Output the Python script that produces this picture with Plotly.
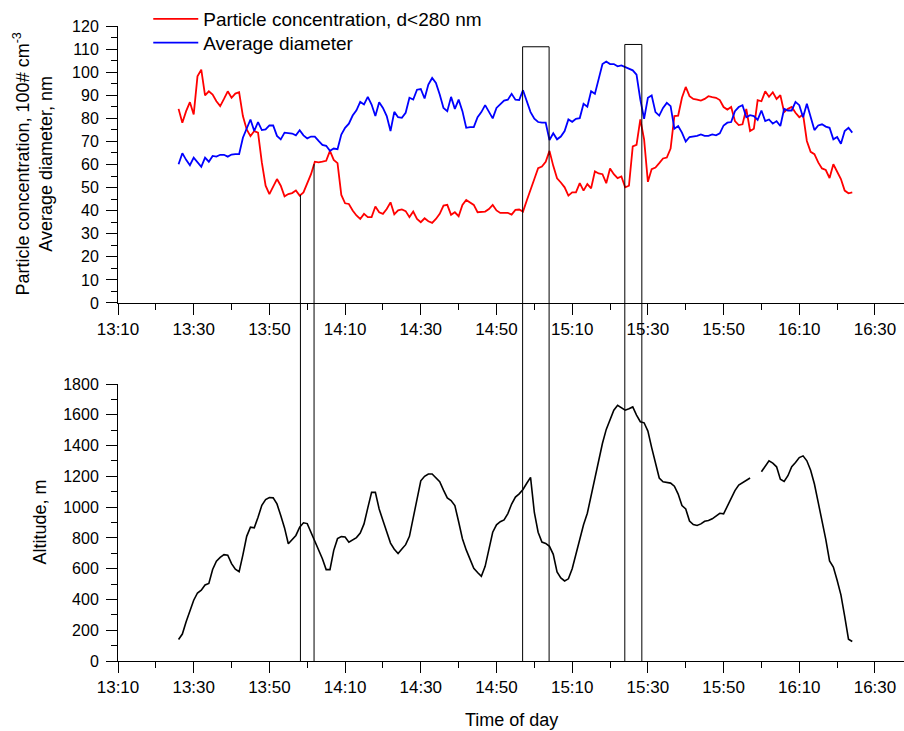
import numpy as np
import pandas as pd
import plotly.graph_objects as go

# ---------------- data ----------------
BASE = "2000-01-01 13:10:00"
# minutes after 13:10 (13:26 ... 16:24), 1-minute samples
minutes = list(range(16, 195))

# Particle concentration, d<280 nm (100# cm-3)
conc = [
    84.1, 78.1, 83.1, 87.0, 81.7, 98.2, 101.1, 89.9, 91.7, 90.3,
    87.4, 85.3, 88.4, 91.7, 88.9, 90.7, 91.3, 81.0, 75.2, 72.3,
    74.5, 73.8, 60.9, 50.8, 47.2, 50.8, 53.7, 50.8, 46.2, 47.2,
    47.6, 48.7, 46.5, 47.9, 52.2, 55.8, 61.2, 60.9, 61.2, 61.6,
    65.9, 62.0, 60.6, 46.8, 43.2, 42.9, 40.1, 37.9, 36.4, 38.6,
    37.2, 37.2, 41.8, 39.3, 38.6, 40.7, 43.6, 38.4, 40.1, 40.5,
    39.8, 37.2, 39.6, 36.4, 35.0, 36.7, 35.4, 34.7, 36.4, 38.6,
    42.2, 42.5, 38.2, 39.3, 37.6, 42.5, 44.6, 43.6, 42.5, 39.3,
    39.3, 39.6, 40.7, 42.5, 40.1, 39.0, 39.0, 39.0, 38.3, 40.3,
    40.5, 39.6, 44.4, 48.7, 53.7, 58.4, 59.1, 61.2, 65.9, 59.4,
    54.0, 52.2, 50.1, 46.5, 47.9, 47.9, 51.9, 48.7, 51.5, 49.7,
    57.0, 56.1, 55.8, 51.9, 58.3, 55.8, 54.1, 54.8, 50.1, 50.8,
    67.8, 68.5, 79.5, 70.9, 52.5, 58.0, 58.7, 60.6, 62.6, 63.0,
    66.9, 81.0, 81.2, 88.9, 93.6, 89.6, 88.4, 88.1, 87.7, 88.4,
    89.6, 89.2, 88.9, 87.9, 84.9, 83.8, 84.9, 78.8, 77.1, 77.4,
    84.1, 74.5, 75.5, 87.9, 87.4, 91.7, 89.3, 91.3, 88.4, 90.0,
    82.7, 84.1, 84.9, 82.4, 80.5, 81.7, 70.2, 65.5, 64.5, 60.9,
    58.3, 57.6, 54.1, 60.1, 57.0, 53.7, 48.7, 47.5, 47.9,
]

# Average diameter (nm)
diam = [
    60.1, 64.9, 62.0, 59.7, 63.0, 60.9, 59.0, 63.0, 61.2, 63.7,
    63.4, 64.2, 64.2, 63.4, 64.3, 64.5, 64.5, 71.6, 75.9, 79.5,
    74.5, 78.4, 74.9, 75.2, 76.9, 76.9, 72.4, 70.9, 73.8, 73.5,
    73.4, 72.6, 74.8, 72.6, 71.3, 72.1, 72.1, 70.2, 68.5, 68.1,
    65.9, 66.9, 66.6, 73.0, 75.9, 77.7, 81.2, 83.5, 87.1, 86.0,
    89.3, 86.0, 81.0, 87.0, 84.5, 81.0, 74.5, 82.8, 80.5, 80.2,
    82.4, 88.9, 88.1, 92.4, 92.7, 88.6, 94.6, 97.5, 95.3, 90.3,
    84.5, 83.1, 89.3, 84.1, 88.1, 83.1, 75.9, 76.2, 76.2, 80.5,
    82.7, 85.7, 82.7, 80.0, 84.5, 86.3, 87.7, 88.1, 90.6, 88.1,
    87.9, 92.2, 87.0, 82.7, 79.8, 78.4, 78.1, 78.1, 70.6, 73.5,
    70.9, 72.1, 74.5, 79.5, 78.5, 79.8, 80.1, 86.3, 85.0, 91.7,
    90.6, 97.5, 103.5, 104.6, 103.5, 103.5, 102.5, 102.9, 102.2, 101.8,
    100.8, 98.9, 88.1, 79.8, 88.9, 89.9, 82.7, 81.2, 84.5, 86.7,
    85.3, 75.5, 76.7, 73.8, 69.9, 71.9, 72.1, 72.4, 73.0, 72.4,
    72.4, 73.0, 72.6, 73.5, 76.9, 78.1, 78.4, 83.1, 84.9, 85.7,
    80.5, 81.4, 81.0, 79.3, 83.4, 78.8, 79.5, 77.7, 78.8, 76.7,
    84.1, 83.4, 83.4, 87.1, 85.7, 80.5, 86.3, 81.0, 74.9, 76.9,
    77.4, 76.4, 75.9, 70.9, 71.9, 69.0, 74.5, 75.9, 73.8,
]

# Altitude (m)
alt = [
    140, 175, 255, 320, 395, 442, 460, 494, 504, 595,
    648, 673, 691, 688, 633, 596, 580, 690, 810, 870,
    866, 934, 1012, 1049, 1062, 1060, 1021, 945, 865, 762,
    788, 816, 870, 898, 893, 835, 777, 712, 665, 594,
    594, 719, 795, 808, 806, 772, 786, 802, 832, 891,
    995, 1096, 1096, 988, 913, 833, 766, 726, 698, 728,
    756, 810, 930, 1070, 1171, 1200, 1215, 1215, 1189, 1165,
    1110, 1060, 1043, 1010, 905, 795, 722, 660, 603, 575,
    550, 615, 719, 837, 885, 905, 917, 958, 1020, 1065,
    1086, 1115, 1155, 1193, 965, 837, 773, 764, 745, 693,
    579, 540, 520, 534, 600, 695, 805, 885, 960, 1074,
    1204, 1320, 1415, 1505, 1570, 1630, 1662, 1645, 1630, 1639,
    1651, 1598, 1555, 1548, 1494, 1387, 1285, 1189, 1165, 1160,
    1156, 1136, 1085, 1010, 988, 910, 887, 881, 891, 908,
    913, 924, 943, 960, 956, 1003, 1053, 1107, 1143, 1160,
    1176, 1189, None, None, 1230, 1262, 1301, 1286, 1262, 1182,
    1167, 1204, 1262, 1290, 1322, 1333, 1301, 1240, 1150, 1031,
    920, 790, 650, 611, 525, 430, 290, 142, 127,
]

# marked event windows (minutes after 13:10); top None -> line starts at the curve
event_start = [48.2, 106.9, 133.9]
event_end = [51.8, 113.9, 138.4]
event_top = [None, 111.0, 112.0]

# ---------------- helpers ----------------
base = pd.Timestamp(BASE)
def tstr(m):
    return (base + pd.Timedelta(minutes=m)).strftime("%Y-%m-%d %H:%M:%S")

times = [tstr(m) for m in minutes]

FONT = "Liberation Sans, Arial, sans-serif"
TOP_DOM = [0.5638, 1.0]
BOT_DOM = [0.0, 0.4362]
YR_TOP = [0, 120]

def top_paper(v):
    return TOP_DOM[0] + (v - YR_TOP[0]) / (YR_TOP[1] - YR_TOP[0]) * (TOP_DOM[1] - TOP_DOM[0])

fig = go.Figure()
fig.add_trace(go.Scatter(x=times, y=conc, mode="lines", name="Particle concentration, d<280 nm",
                         line=dict(color="#ff0000", width=1.8), xaxis="x", yaxis="y",
                         legend="legend"))
fig.add_trace(go.Scatter(x=times, y=diam, mode="lines", name="Average diameter",
                         line=dict(color="#0000ff", width=1.8), xaxis="x", yaxis="y",
                         legend="legend2"))
fig.add_trace(go.Scatter(x=times, y=alt, mode="lines", name="Altitude", showlegend=False,
                         line=dict(color="#000000", width=1.6), connectgaps=False,
                         xaxis="x2", yaxis="y2"))

shapes = []
conc_arr = np.array(conc, dtype=float)
for s, e, top in zip(event_start, event_end, event_top):
    if top is None:
        ys = top_paper(float(np.interp(s, minutes, conc_arr)))
        ye = top_paper(float(np.interp(e, minutes, conc_arr)))
    else:
        ys = ye = top_paper(top)
        shapes.append(dict(type="line", xref="x", yref="paper", x0=tstr(s), x1=tstr(e),
                           y0=ys, y1=ys, line=dict(color="black", width=1)))
    shapes.append(dict(type="line", xref="x", yref="paper", x0=tstr(s), x1=tstr(s),
                       y0=0, y1=ys, line=dict(color="black", width=1)))
    shapes.append(dict(type="line", xref="x", yref="paper", x0=tstr(e), x1=tstr(e),
                       y0=0, y1=ye, line=dict(color="black", width=1)))

xrange = [tstr(0), tstr(207.67)]
xcommon = dict(type="date", range=xrange, tickformat="%H:%M", tick0=tstr(0),
               dtick=20 * 60 * 1000, ticks="outside", ticklen=11, tickwidth=1,
               tickcolor="black", showline=True, linecolor="black", linewidth=1,
               showgrid=False, zeroline=False,
               tickfont=dict(family=FONT, size=17, color="black"),
               minor=dict(dtick=10 * 60 * 1000, ticks="outside", ticklen=6,
                          tickcolor="black", tickwidth=1, showgrid=False))
ycommon = dict(ticks="outside", ticklen=11, tickwidth=1, tickcolor="black",
               showline=True, linecolor="black", linewidth=1, showgrid=False,
               zeroline=False, ticklabelstandoff=4,
               tickfont=dict(family=FONT, size=16, color="black"))

legend_common = dict(xanchor="left", yanchor="top",
                     font=dict(family=FONT, size=19, color="black"),
                     bgcolor="rgba(0,0,0,0)", itemwidth=45)

fig.update_layout(
    width=904, height=731,
    margin=dict(l=118, r=0, t=23, b=70),
    paper_bgcolor="white", plot_bgcolor="white",
    showlegend=True,
    legend=dict(x=0.0385, y=1.041, **legend_common),
    legend2=dict(x=0.0385, y=1.041 - 24 / 638, **legend_common),
    xaxis=dict(domain=[0, 1], anchor="y", **xcommon),
    xaxis2=dict(domain=[0, 1], anchor="y2", **xcommon),
    yaxis=dict(domain=TOP_DOM, anchor="x", range=YR_TOP, dtick=10,
               minor=dict(dtick=5, ticks="outside", ticklen=6, tickcolor="black", showgrid=False),
               **ycommon),
    yaxis2=dict(domain=BOT_DOM, anchor="x2", range=[0, 1800], dtick=200,
                minor=dict(dtick=100, ticks="outside", ticklen=6, tickcolor="black", showgrid=False),
                **ycommon),
    shapes=shapes,
    annotations=[
        dict(text="Particle concentration, 100# cm<sup>-3</sup><br>Average diameter, nm",
             xref="paper", yref="paper", x=0, y=(TOP_DOM[0] + TOP_DOM[1]) / 2,
             xanchor="center", yanchor="middle", xshift=-84, textangle=-90,
             showarrow=False, font=dict(family=FONT, size=18, color="black")),
        dict(text="Altitude, m", xref="paper", yref="paper", x=0,
             y=(BOT_DOM[0] + BOT_DOM[1]) / 2, xanchor="center", yanchor="middle",
             xshift=-78, textangle=-90, showarrow=False,
             font=dict(family=FONT, size=18, color="black")),
        dict(text="Time of day", xref="paper", yref="paper", x=0.5, y=0,
             xanchor="center", yanchor="middle", yshift=-59, showarrow=False,
             font=dict(family=FONT, size=18, color="black")),
    ],
)

fig.write_html("out.html")
